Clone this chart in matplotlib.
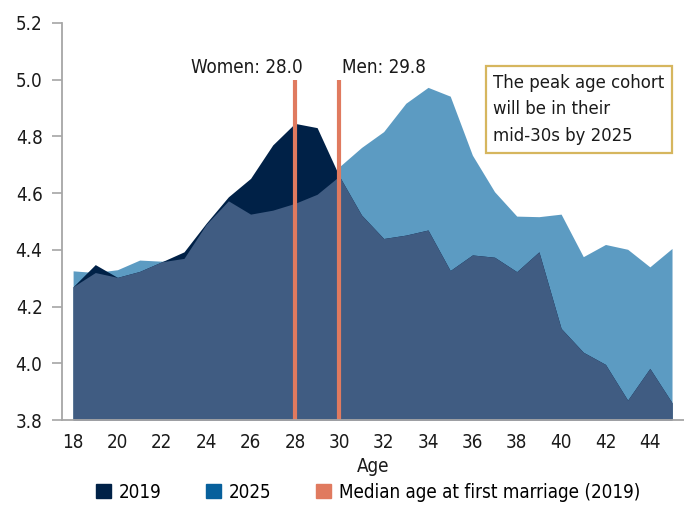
import numpy as np
import matplotlib
matplotlib.use('Agg')
import matplotlib.pyplot as plt
from matplotlib import font_manager as fm
from matplotlib.patches import Patch

# look for a narrow / condensed face to mimic the original's condensed font
narrow = None
for f in fm.fontManager.ttflist:
    if f.weight in (400, 'normal', 'regular') and f.style == 'normal':
        if 'Narrow' in f.name or 'Condensed' in f.name or f.stretch in ('condensed', 'semi-condensed'):
            narrow = f
            break
if narrow is not None:
    plt.rcParams['font.family'] = [narrow.name, 'DejaVu Sans']
    plt.rcParams['font.stretch'] = narrow.stretch
    base_size = 13.5
else:
    plt.rcParams['font.family'] = ['DejaVu Sans']
    base_size = 11.5
plt.rcParams['font.size'] = base_size

########
# Data #
########
ages = list(range(18, 46))
pop_2019 = [4.27, 4.348, 4.303, 4.324, 4.358, 4.393, 4.494, 4.587, 4.652, 4.77,
            4.846, 4.831, 4.66, 4.523, 4.44, 4.452, 4.47, 4.327, 4.382, 4.374,
            4.323, 4.393, 4.123, 4.039, 3.996, 3.87, 3.982, 3.861]
pop_2025 = [4.326, 4.32, 4.33, 4.364, 4.36, 4.37, 4.49, 4.573, 4.526, 4.54,
            4.564, 4.596, 4.693, 4.761, 4.817, 4.917, 4.973, 4.942, 4.734, 4.605,
            4.519, 4.517, 4.526, 4.376, 4.419, 4.402, 4.34, 4.405]
median_ages = [28, 30]
median_labels = ['Women: 28.0', 'Men: 29.8']
x_ticks = list(range(18, 45, 2))
y_ticks = [3.8, 4.0, 4.2, 4.4, 4.6, 4.8, 5.0, 5.2]

# colours
navy = '#002147'
light_blue = '#5c9bc2'
overlap = '#405c82'
blue_legend = '#07609c'
orange = '#e07a5f'
gold = '#d6b65e'

#########
# Chart #
#########
x = np.array(ages)
a = np.array(pop_2019)
b = np.array(pop_2025)

fig = plt.figure(figsize=(6.84, 5.22), dpi=100)
ax = fig.add_axes([62 / 684, 1 - 420 / 522, 622 / 684, 397 / 522])

ax.fill_between(x, 3.8, b, color=light_blue, lw=0)
ax.fill_between(x, 3.8, a, color=navy, lw=0)
ax.fill_between(x, 3.8, np.minimum(a, b), color=overlap, lw=0)

# median age lines
ax.vlines(median_ages, 3.8, 5.0, color=orange, lw=3)
ax.text(28.35, 5.025, median_labels[0], ha='right', va='baseline', color='#1a1a1a')
ax.text(30.1, 5.025, median_labels[1], ha='left', va='baseline', color='#1a1a1a')

# call-out box
ax.text(36.95, 5.02, 'The peak age cohort\nwill be in their\nmid-30s by 2025',
        ha='left', va='top', linespacing=1.6, color='#1a1a1a', fontsize=base_size - 0.3,
        bbox=dict(boxstyle='square,pad=0.42', fc='white', ec=gold, lw=1.6))

ax.set_xlim(17.5, 45.54)
ax.set_ylim(3.8, 5.2)
ax.set_xticks(x_ticks)
ax.set_yticks(y_ticks)
ax.set_yticklabels(['%.1f' % v for v in y_ticks])
ax.tick_params(axis='x', length=0, pad=9, colors='#1a1a1a')
ax.tick_params(axis='y', length=7, width=1.2, pad=7, color='#a6a6a6', labelcolor='#1a1a1a')
for side in ['top', 'right']:
    ax.spines[side].set_visible(False)
for side in ['left', 'bottom']:
    ax.spines[side].set_color('#a6a6a6')
    ax.spines[side].set_linewidth(1.3)
ax.set_xlabel('Age', labelpad=4, color='#1a1a1a')

handles = [Patch(color=navy, label='2019'),
           Patch(color=blue_legend, label='2025'),
           Patch(color=orange, label='Median age at first marriage (2019)')]
fig.legend(handles=handles, loc='center', bbox_to_anchor=(0.538, 0.057), ncol=3,
           frameon=False, handlelength=0.8, handleheight=0.8,
           handletextpad=0.4, columnspacing=2.4)

fig.savefig('out.png', dpi=100)
